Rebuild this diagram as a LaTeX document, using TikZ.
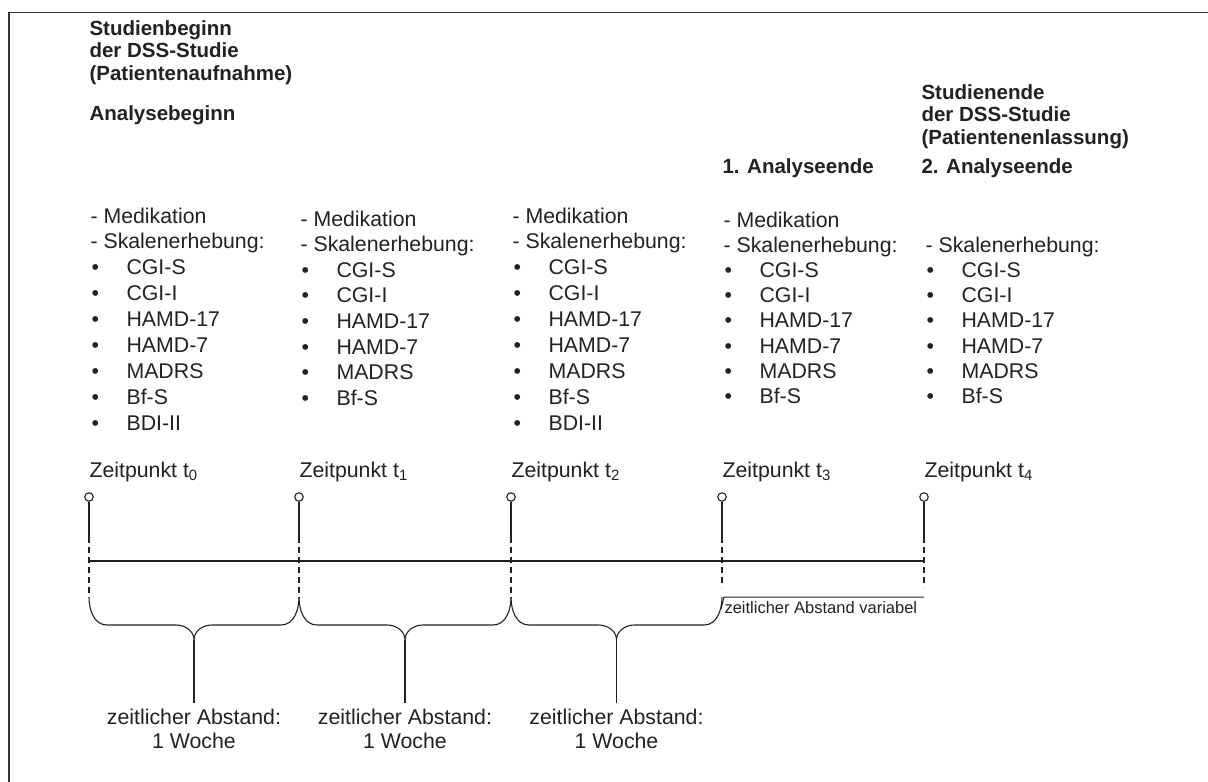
\documentclass[tikz,border=0pt]{standalone}
\usepackage{fontspec}
\setmainfont{Liberation Sans}
\definecolor{ink}{HTML}{222222}
\begin{document}
\begin{tikzpicture}[x=1pt,y=-1pt,
  line width=1.1pt, draw=ink, text=ink,
  txt/.style={inner sep=0pt, anchor=base west, font=\fontsize{21.3}{25.6}\selectfont},
  % multi-line nodes: the base anchor sits on the last line
  head/.style={inner sep=0pt, anchor=base west, align=left, font=\fontsize{20.5}{22.5}\selectfont\bfseries},
  gap/.style={inner sep=0pt, anchor=base, align=center, font=\fontsize{21.3}{24}\selectfont},
  small/.style={inner sep=0pt, anchor=base west, font=\fontsize{16.5}{18}\selectfont},
  knob/.style={circle, draw=ink, fill=white, minimum size=8.5pt, inner sep=0pt, line width=1.1pt},
  guide/.style={dash pattern=on 6pt off 4pt}
]
\useasboundingbox (0,0) rectangle (1208,782);
\fill[white] (0,0) rectangle (1208,782);
% outer frame
\draw[line width=1.8pt, black!80] (9,782) -- (9,12.5) -- (1208,12.5);

% headings
\node[head] (hstart) at (89,80) {Studienbeginn\\der DSS-Studie\\(Patientenaufnahme)};
\node[head] (hbegin) at (89,120) {Analysebeginn};
\node[head] (hend) at (921,144) {Studienende\\der DSS-Studie\\(Patientenenlassung)};
\node[head] (hend1) at (722,173) {1. Analyseende};
\node[head] (hend2) at (921,173) {2. Analyseende};

% measurement lists
\foreach \cx/\top/\sp/\n/\med/\items in {
  89/223/25.9/1/1/{CGI-S,CGI-I,HAMD-17,HAMD-7,MADRS,Bf-S,BDI-II},
  299/226/25.6/2/1/{CGI-S,CGI-I,HAMD-17,HAMD-7,MADRS,Bf-S},
  511/223/25.9/3/1/{CGI-S,CGI-I,HAMD-17,HAMD-7,MADRS,Bf-S,BDI-II},
  722/227/25.2/4/1/{CGI-S,CGI-I,HAMD-17,HAMD-7,MADRS,Bf-S},
  924/227/25.2/5/0/{CGI-S,CGI-I,HAMD-17,HAMD-7,MADRS,Bf-S}} {
  \ifnum\med=1
    \node[txt] (med\n) at (\cx+1,\top) {- Medikation};
  \fi
  \node[txt] (sk\n) at (\cx+1,\top+\sp) {- Skalenerhebung:};
  \foreach \name [count=\k] in \items {
    \node[txt] (it\n-\k) at (\cx+2,\top+\sp+\sp*\k) {\makebox[35pt][l]{•}\name};
  }
}

% time points
\foreach \x/\n/\dend in {89/0/597, 299/1/597, 511/2/597, 722/3/587, 924/4/587} {
  \node[txt] (z\n) at (\x,477) {Zeitpunkt t\textsubscript{\n}};
  \node[knob] (c\n) at (\x,497) {};
  \coordinate (s\n) at (\x,537);
  \coordinate (d\n) at (\x,\dend);
  \coordinate (l\n) at (\x,561);
  \draw (c\n.south) -- (s\n);
  \draw[guide] (s\n) -- (d\n);
}
\draw (l0) -- (l4);

% weekly intervals
\foreach \a/\b/\i in {89/299/1, 299/511/2, 511/722/3} {
  \pgfmathsetmacro{\m}{(\a+\b)/2}
  \coordinate (bl\i) at (\a,597);
  \coordinate (br\i) at (\b,597);
  \coordinate (bt\i) at (\m,640);
  \coordinate (bs\i) at (\m,703);
  \draw (bl\i) to[out=-90,in=180] (\a+18,625) -- (\m-18,625)
        to[out=0,in=90] (bt\i) to[out=90,in=180] (\m+18,625)
        -- (\b-18,625) to[out=0,in=-90] (br\i);
  \draw (bt\i) -- (bs\i);
  \node[gap] (w\i) at (\m,748) {zeitlicher Abstand:\\1 Woche};
}

% open-ended interval
\coordinate (vl) at (721,609);
\coordinate (vk) at (724,597);
\coordinate (vr) at (924,597);
\draw[line width=1pt] (vl) -- (vk) -- (vr);
\node[small] (var) at (724,613) {zeitlicher Abstand variabel};
\end{tikzpicture}
\end{document}
